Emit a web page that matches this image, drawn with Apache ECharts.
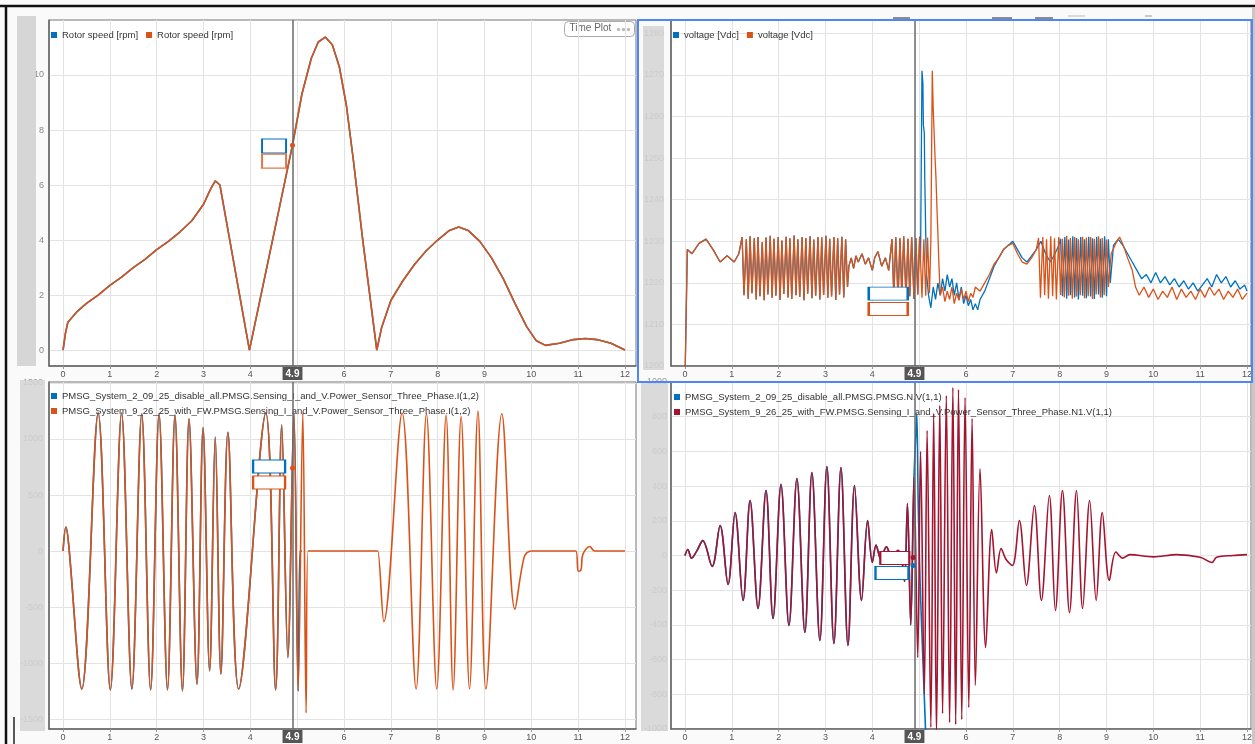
<!DOCTYPE html>
<html>
<head>
<meta charset="utf-8">
<script src="https://cdn.jsdelivr.net/npm/echarts@6/dist/echarts.min.js"></script>
<style>
html, body { margin: 0; padding: 0; background: #fafafa; }
#chart { width: 1255px; height: 744px; }
</style>
</head>
<body>
<div id="chart"></div>
<script>
// ---- data ----
const xTicks = [0, 1, 2, 3, 4, 5, 6, 7, 8, 9, 10, 11, 12]
const cursorT = 4.9

// top left: rotor speed, both runs coincide
const rotorSpeed = [
  [0, 0], [0.05, 0.6], [0.1, 1.0], [0.3, 1.4], [0.5, 1.7], [0.75, 2.0], [1.0, 2.35], [1.25, 2.65],
  [1.5, 3.0], [1.75, 3.3], [2.0, 3.65], [2.25, 3.95], [2.5, 4.3], [2.75, 4.7], [3.0, 5.3], [3.15, 5.85],
  [3.25, 6.15], [3.35, 6.0], [3.98, 0], [4.9, 7.45], [5.1, 9.3], [5.3, 10.6], [5.45, 11.2], [5.6, 11.38],
  [5.75, 11.1], [5.9, 10.3], [6.05, 8.9], [6.2, 6.9], [6.4, 4.0], [6.55, 2.0], [6.7, 0], [6.8, 0.8],
  [7.0, 1.8], [7.25, 2.5], [7.5, 3.1], [7.75, 3.6], [8.0, 4.0], [8.25, 4.35], [8.45, 4.47], [8.65, 4.35],
  [8.9, 3.95], [9.15, 3.35], [9.4, 2.6], [9.65, 1.7], [9.9, 0.85], [10.1, 0.35], [10.3, 0.17], [10.6, 0.25],
  [10.9, 0.38], [11.15, 0.42], [11.4, 0.38], [11.7, 0.25], [12, 0]
]
const rotorTicks = [0, 2, 4, 6, 8, 10]

// top right: DC link voltage
const vdcStart = [
  [0, 1196], [0.04, 1196], [0.05, 1228], [0.15, 1227], [0.3, 1229.5], [0.45, 1230.5], [0.6, 1228],
  [0.75, 1225], [0.9, 1226.5], [1.05, 1225], [1.15, 1227]
]
const vdcBurst1T = [1.22, 1.26, 1.31, 1.35, 1.39, 1.43, 1.48, 1.52, 1.56, 1.60, 1.65, 1.69, 1.73, 1.77,
  1.82, 1.86, 1.90, 1.94, 1.99, 2.03, 2.07, 2.11, 2.16, 2.20, 2.24, 2.28, 2.33, 2.37, 2.41, 2.45, 2.50,
  2.54, 2.58, 2.62, 2.67, 2.71, 2.75, 2.79, 2.84, 2.88, 2.92, 2.96, 3.01, 3.05, 3.09, 3.13, 3.18, 3.22,
  3.26, 3.30, 3.35, 3.39, 3.43, 3.47]
const vdcBurst1V = [1231.0, 1217.0, 1230.5, 1216.2, 1231.2, 1217.5, 1230.8, 1216.0, 1231.0, 1216.8,
  1229.8, 1215.8, 1230.9, 1217.2, 1231.3, 1216.4, 1230.6, 1216.9, 1231.0, 1215.9, 1230.2, 1217.3,
  1231.1, 1216.5, 1230.7, 1216.1, 1231.4, 1217.0, 1230.5, 1216.6, 1231.0, 1215.8, 1230.8, 1217.4,
  1231.2, 1216.3, 1230.4, 1216.9, 1231.0, 1216.0, 1230.9, 1217.1, 1231.3, 1216.4, 1230.6, 1216.7,
  1231.0, 1215.9, 1230.7, 1217.2, 1231.1, 1216.5, 1230.5, 1219.0]
const vdcMid = [
  [3.5, 1224], [3.55, 1226], [3.6, 1223.5], [3.65, 1226.5], [3.7, 1225], [3.78, 1227], [3.85, 1224.5],
  [3.92, 1226], [4.0, 1223], [4.05, 1226], [4.12, 1227.5], [4.2, 1224], [4.28, 1226], [4.35, 1223]
]
const vdcBurst2T = [4.42, 4.46, 4.50, 4.55, 4.59, 4.63, 4.67, 4.72, 4.76, 4.80, 4.84, 4.89, 4.93, 4.97,
  5.01, 5.06, 5.10, 5.14, 5.18, 5.22]
const vdcBurst2V = [1230.5, 1216.5, 1231.0, 1216.0, 1230.7, 1217.0, 1231.2, 1216.3, 1230.6, 1216.8,
  1231.0, 1216.1, 1230.8, 1217.2, 1231.1, 1216.4, 1230.5, 1216.9, 1230.9, 1217.5]
const vdcFwAfter = [
  [5.25, 1230], [5.28, 1271], [5.30, 1262], [5.32, 1262], [5.34, 1250], [5.36, 1245], [5.38, 1238],
  [5.40, 1232], [5.42, 1225], [5.45, 1217], [5.5, 1219], [5.55, 1215.5], [5.6, 1218], [5.65, 1216],
  [5.7, 1219], [5.75, 1215], [5.8, 1217.5], [5.85, 1215.8], [5.9, 1218.5], [5.95, 1216], [6.0, 1218],
  [6.05, 1215.5], [6.1, 1217.5], [6.15, 1216.5], [6.2, 1219], [6.3, 1218], [6.4, 1220], [6.5, 1222],
  [6.6, 1224.5], [6.7, 1226], [6.8, 1228], [6.9, 1229], [7.0, 1229.5], [7.1, 1227], [7.2, 1225],
  [7.3, 1224.5], [7.4, 1226], [7.5, 1228]
]
const vdcFwBurst3T = [7.55, 7.59, 7.64, 7.68, 7.72, 7.76, 7.81, 7.85, 7.89, 7.93, 7.98, 8.02, 8.06, 8.10,
  8.15, 8.19, 8.23, 8.27, 8.32, 8.36, 8.40, 8.44, 8.49, 8.53, 8.57, 8.61, 8.66, 8.70, 8.74, 8.78, 8.83,
  8.87, 8.91, 8.95, 9.00, 9.04]
const vdcFwBurst3V = [1230.8, 1216.4, 1231.0, 1217.0, 1230.5, 1216.2, 1231.2, 1216.8, 1230.7, 1216.0,
  1231.0, 1217.1, 1230.6, 1216.5, 1231.3, 1216.9, 1230.8, 1216.2, 1231.0, 1216.7, 1230.5, 1217.0,
  1231.1, 1216.3, 1230.9, 1216.8, 1231.0, 1216.1, 1230.6, 1217.2, 1231.2, 1216.5, 1230.8, 1217.0,
  1230.4, 1219.0]
const vdcFwEnd = [
  [9.1, 1227], [9.2, 1229.5], [9.28, 1231], [9.36, 1229], [9.45, 1226], [9.55, 1223], [9.62, 1219],
  [9.7, 1217], [9.8, 1219], [9.9, 1216.5], [10.0, 1218.5], [10.1, 1216], [10.2, 1218], [10.3, 1216.5],
  [10.4, 1219], [10.5, 1216], [10.6, 1218.5], [10.7, 1216.5], [10.8, 1218], [10.9, 1216], [11.0, 1218.5],
  [11.1, 1216.5], [11.2, 1219], [11.3, 1217], [11.4, 1218.5], [11.5, 1216], [11.6, 1218], [11.7, 1216.5],
  [11.8, 1218.5], [11.9, 1216], [12.0, 1217.5]
]
const vdcDisAfter = [
  [5.03, 1226], [5.06, 1271], [5.08, 1268], [5.09, 1258], [5.11, 1256], [5.12, 1245], [5.14, 1232],
  [5.16, 1222], [5.2, 1217], [5.25, 1214], [5.3, 1219], [5.35, 1216], [5.4, 1220], [5.45, 1217],
  [5.5, 1221], [5.55, 1218], [5.6, 1222], [5.65, 1219], [5.7, 1221], [5.75, 1217], [5.8, 1220],
  [5.85, 1216], [5.9, 1219], [5.95, 1215], [6.0, 1217], [6.05, 1214.5], [6.1, 1216], [6.15, 1213.5],
  [6.2, 1215], [6.25, 1213.5], [6.3, 1216], [6.4, 1218], [6.5, 1221], [6.6, 1224], [6.7, 1226],
  [6.8, 1228], [6.9, 1229], [7.0, 1230], [7.1, 1228], [7.2, 1226], [7.3, 1225], [7.4, 1226.5],
  [7.5, 1228], [7.6, 1230], [7.7, 1227], [7.8, 1225], [7.9, 1227], [7.98, 1229]
]
const vdcDisBurst3T = [8.02, 8.06, 8.11, 8.15, 8.19, 8.23, 8.28, 8.32, 8.36, 8.40, 8.45, 8.49, 8.53,
  8.57, 8.62, 8.66, 8.70, 8.74, 8.79, 8.83, 8.87, 8.91, 8.96, 9.00, 9.04, 9.08]
const vdcDisBurst3V = [1230.6, 1216.8, 1231.0, 1216.2, 1230.4, 1217.0, 1231.2, 1216.5, 1230.8, 1216.0,
  1231.0, 1216.9, 1230.5, 1216.3, 1231.1, 1216.7, 1230.7, 1216.1, 1231.0, 1217.2, 1230.6, 1216.4,
  1231.2, 1216.8, 1230.5, 1220.0]
const vdcDisEnd = [
  [9.15, 1229], [9.25, 1230.5], [9.35, 1229], [9.45, 1227], [9.55, 1225], [9.65, 1223], [9.75, 1221],
  [9.85, 1222], [9.95, 1220], [10.05, 1222.5], [10.15, 1220], [10.25, 1221.5], [10.35, 1219.5],
  [10.45, 1221], [10.55, 1219], [10.65, 1220.5], [10.75, 1218.5], [10.85, 1220], [10.95, 1218],
  [11.05, 1219.5], [11.15, 1221], [11.25, 1219], [11.35, 1222], [11.45, 1220], [11.55, 1221.5],
  [11.65, 1219], [11.75, 1220.5], [11.85, 1218.5], [11.95, 1219.5], [12.0, 1218]
]

// bottom left: phase current I(1,2)
const iShared = [
  [0, 0], [0.06, 215], [0.12, 60], [0.4, -1232], [0.75, 1232], [1.01, -1240], [1.25, 1232], [1.47, -1232],
  [1.68, 1225], [1.87, -1240], [2.05, 1225], [2.23, -1240], [2.39, 1215], [2.55, -1250], [2.69, 1180],
  [2.86, -1188], [2.99, 1100], [3.13, -1071], [3.25, 1018], [3.37, -1098], [3.52, 1060], [3.75, -1232],
  [4.33, 1232], [4.54, -1240], [4.67, 1125], [4.80, -950], [4.93, 1232]
]
const iDisTail = [[5.02, -1250], [5.06, 0], [5.1, 0]]
const iFwTail = [[5.02, -1250], [5.12, 1232], [5.19, -1446], [5.23, 0], [6.7, 0], [6.72, 0], [6.85, -630],
  [7.24, 1232], [7.54, -1232], [7.76, 1225], [7.98, -1232], [8.18, 1215], [8.33, -1240], [8.5, 1200],
  [8.68, -1232], [8.86, 1250], [9.03, -1232], [9.37, 1225], [9.65, -520], [9.85, -50], [10.0, 0],
  [10.95, 0], [11.0, -180], [11.06, -170], [11.1, -30], [11.25, 40], [11.35, 0], [12, 0]]
const iTicks = [-1500, -1000, -500, 0, 500, 1000, 1500]

// bottom right: phase voltage V(1,1)
const vShared = [
  [0, 0], [0.06, 35], [0.14, -15], [0.25, 25], [0.38, 86], [0.58, -63], [0.75, 173], [0.92, -167],
  [1.07, 248], [1.24, -259], [1.39, 317], [1.56, -305], [1.73, 375], [1.88, -363], [2.05, 409],
  [2.22, -403], [2.39, 444], [2.56, -444], [2.71, 478], [2.88, -490], [3.03, 513], [3.18, -507],
  [3.33, 507], [3.48, -519], [3.62, 403], [3.77, -259], [3.9, 202], [4.0, -40], [4.08, 60], [4.18, -20],
  [4.3, 50], [4.42, -10], [4.55, 30], [4.65, -60], [4.69, -150], [4.75, 300], [4.82, -400], [4.89, 450]
]
const vDisTail = [[4.93, 700], [4.95, 818], [4.98, 300], [5.02, -150], [5.08, -600], [5.15, -1100]]
const vFwTail = [
  [4.97, -588], [5.03, 600], [5.11, -800], [5.17, 720], [5.25, -990], [5.31, 820], [5.37, -1030],
  [5.44, 865], [5.50, -911], [5.58, 922], [5.65, -963], [5.72, 968], [5.78, -974], [5.84, 957],
  [5.91, -945], [5.98, 911], [6.06, -876], [6.13, 790], [6.20, -749], [6.30, 500], [6.42, -530],
  [6.55, 150], [6.65, -100], [6.75, 40], [6.85, -20], [6.99, -58], [7.14, 202], [7.29, -173],
  [7.46, 288], [7.61, -259], [7.78, 346], [7.91, -317], [8.06, 375], [8.21, -329], [8.36, 375],
  [8.49, -305], [8.64, 317], [8.78, -259], [8.91, 248], [9.06, -144], [9.2, 20], [9.35, -15], [9.5, 5],
  [10, -8], [10.5, 5], [11, -10], [11.25, -40], [11.35, -10], [11.7, 0], [12, 5]
]

// ---- helpers ----
const zip = (ts, vs) => ts.map((t, i) => [t, vs[i]])
const BLUE = '#0072BD', ORANGE = '#D95319', MAROON = '#A2142F'
const FONT = 'Liberation Sans, Arial, sans-serif'

const vdcFw = vdcStart.concat(zip(vdcBurst1T, vdcBurst1V), vdcMid, zip(vdcBurst2T, vdcBurst2V), vdcFwAfter,
  zip(vdcFwBurst3T, vdcFwBurst3V), vdcFwEnd)
const vdcDis = vdcStart.concat(zip(vdcBurst1T, vdcBurst1V), vdcMid, zip(vdcBurst2T, vdcBurst2V).slice(0, 15),
  vdcDisAfter, zip(vdcDisBurst3T, vdcDisBurst3V), vdcDisEnd)

const grids = [
  { left: 49, top: 20, width: 587, height: 346 },
  { left: 671, top: 20, width: 581, height: 346 },
  { left: 49, top: 382, width: 587, height: 347 },
  { left: 671, top: 382, width: 581, height: 347 }
]

function xAxisFor(i, min, max) {
  return {
    type: 'value', gridIndex: i, min: min, max: max,
    axisLine: { show: true, onZero: false, lineStyle: { color: '#666', width: 1.5 } },
    axisTick: { show: true, customValues: xTicks, length: 3, lineStyle: { color: '#999' } },
    axisLabel: { customValues: xTicks, fontSize: 9, color: '#555', margin: 4, fontFamily: FONT },
    splitLine: { show: true, lineStyle: { color: '#e3e3e3' } }
  }
}
function yAxisFor(i, range, label, ticks) {
  const axisLabel = Object.assign({ fontSize: 9, color: '#888', fontFamily: FONT, formatter: v => String(v) }, label)
  const axis = Object.assign({
    type: 'value', gridIndex: i,
    axisLine: { show: true, onZero: false, lineStyle: { color: '#666', width: 1.5 } },
    axisTick: { show: false },
    axisLabel: axisLabel,
    splitLine: { show: true, lineStyle: { color: '#e3e3e3' } }
  }, range)
  if (ticks) {
    axis.axisTick.customValues = ticks
    axis.axisLabel.customValues = ticks
  }
  return axis
}

function cursorLine() {
  return {
    silent: true, symbol: 'none', animation: false,
    lineStyle: { color: '#6a6a6a', width: 1.5, type: 'solid' },
    label: {
      show: true, position: 'start', formatter: '4.9', color: '#fff', backgroundColor: '#555',
      padding: [2, 3, 1, 3], fontSize: 10, fontWeight: 'bold', distance: 1, fontFamily: FONT
    },
    data: [{ xAxis: cursorT }]
  }
}
function box(coord, size, color, opacity) {
  return {
    coord: coord, symbol: 'rect', symbolSize: size,
    itemStyle: { color: '#fff', borderColor: color, borderWidth: 1.5, opacity: opacity || 1 }
  }
}
function dot(coord, color) {
  return { coord: coord, symbol: 'circle', symbolSize: 5, itemStyle: { color: color } }
}
function line(name, data, color, gi, extra) {
  return Object.assign({
    name: name, type: 'line', xAxisIndex: gi, yAxisIndex: gi, data: data, showSymbol: false,
    animation: false, clip: true, lineStyle: { color: color, width: 1.6 }, itemStyle: { color: color }
  }, extra)
}

const legendText = { fontSize: 9.5, color: '#333', fontFamily: FONT }
const legendBase = {
  icon: 'rect', itemWidth: 6, itemHeight: 6, itemGap: 8, padding: 0, selectedMode: false,
  textStyle: legendText, formatter: n => n.replace(/#\d$/, '')
}

const chart = echarts.init(document.getElementById('chart'))
chart.setOption({
  backgroundColor: '#fafafa',
  animation: false,
  grid: grids.map(g => Object.assign({ show: true, backgroundColor: '#fff', borderColor: '#777', borderWidth: 1 }, g)),
  xAxis: [xAxisFor(0, -0.3, 12.235), xAxisFor(1, -0.2985, 12.085), xAxisFor(2, -0.3, 12.235), xAxisFor(3, -0.2985, 12.085)],
  yAxis: [
    yAxisFor(0, { min: -0.58, max: 12.0 }, { margin: 5, color: '#888' }, rotorTicks),
    yAxisFor(1, { min: 1200, max: 1283.2, interval: 10 }, { margin: 7, showMaxLabel: false, color: '#9a9a9a' }),
    yAxisFor(2, { min: -1589, max: 1509 }, { margin: 6, color: '#9a9a9a' }, iTicks),
    yAxisFor(3, { min: -1000, max: 1000, interval: 200 }, { margin: 4, color: '#9a9a9a' })
  ],
  legend: [
    Object.assign({}, legendBase, { left: 51, top: 30, data: ['Rotor speed [rpm]#1', 'Rotor speed [rpm]#2'] }),
    Object.assign({}, legendBase, { left: 673, top: 30, data: ['voltage [Vdc]#1', 'voltage [Vdc]#2'] }),
    Object.assign({}, legendBase, {
      left: 51, top: 391, orient: 'vertical', itemGap: 5,
      data: ['PMSG_System_2_09_25_disable_all.PMSG.Sensing_I_and_V.Power_Sensor_Three_Phase.I(1,2)',
        'PMSG_System_9_26_25_with_FW.PMSG.Sensing_I_and_V.Power_Sensor_Three_Phase.I(1,2)']
    }),
    Object.assign({}, legendBase, {
      left: 674, top: 392, orient: 'vertical', itemGap: 5,
      data: ['PMSG_System_2_09_25_disable_all.PMSG.PMSG.N.V(1,1)',
        'PMSG_System_9_26_25_with_FW.PMSG.Sensing_I_and_V.Power_Sensor_Three_Phase.N1.V(1,1)']
    })
  ],
  series: [
    line('Rotor speed [rpm]#1', rotorSpeed, BLUE, 0, { markLine: cursorLine() }),
    line('Rotor speed [rpm]#2', rotorSpeed, ORANGE, 0, {
      markPoint: { silent: true, animation: false, label: { show: false },
        data: [box([4.506, 7.42], [24, 14], BLUE), box([4.506, 6.87], [24, 14], ORANGE, 0.8), dot([4.9, 7.45], ORANGE)] }
    }),
    line('voltage [Vdc]#1', vdcDis, BLUE, 1, { lineStyle: { color: BLUE, width: 1.3 }, markLine: cursorLine() }),
    line('voltage [Vdc]#2', vdcFw, ORANGE, 1, {
      lineStyle: { color: ORANGE, width: 1.3 },
      markPoint: { silent: true, animation: false, label: { show: false },
        data: [box([4.34, 1217.4], [39, 13], BLUE), box([4.34, 1213.7], [39, 13], ORANGE)] }
    }),
    line('PMSG_System_2_09_25_disable_all.PMSG.Sensing_I_and_V.Power_Sensor_Three_Phase.I(1,2)',
      iShared.concat(iDisTail), BLUE, 2, { smooth: 0.35, markLine: cursorLine() }),
    line('PMSG_System_9_26_25_with_FW.PMSG.Sensing_I_and_V.Power_Sensor_Three_Phase.I(1,2)',
      iShared.concat(iFwTail), ORANGE, 2, {
        smooth: 0.35,
        markPoint: { silent: true, animation: false, label: { show: false },
          data: [box([4.40, 754], [32, 13], BLUE), box([4.40, 612], [32, 13], ORANGE), dot([4.9, 741], ORANGE)] }
      }),
    line('PMSG_System_2_09_25_disable_all.PMSG.PMSG.N.V(1,1)', vShared.concat(vDisTail), BLUE, 3, {
      smooth: 0.35, markLine: cursorLine(),
      markPoint: { silent: true, animation: false, label: { show: false },
        data: [box([4.42, -101], [33, 13], BLUE), dot([4.87, -58], BLUE)] }
    }),
    line('PMSG_System_9_26_25_with_FW.PMSG.Sensing_I_and_V.Power_Sensor_Three_Phase.N1.V(1,1)',
      vShared.concat(vFwTail), MAROON, 3, {
        smooth: 0.35,
        markPoint: { silent: true, animation: false, label: { show: false },
          data: [box([4.48, -14], [29, 13], MAROON), dot([4.87, -11], MAROON)] }
      })
  ],
  graphic: [
    // window frame
    { type: 'line', z: 100, shape: { x1: 0, y1: 6, x2: 1255, y2: 6 }, style: { stroke: '#111', lineWidth: 2.5 } },
    { type: 'line', z: 100, shape: { x1: 6, y1: 6, x2: 6, y2: 744 }, style: { stroke: '#111', lineWidth: 2.5 } },
    { type: 'line', z: 100, shape: { x1: 14, y1: 717, x2: 14, y2: 744 }, style: { stroke: '#222', lineWidth: 1.5 } },
    { type: 'rect', z: 100, shape: { x: 1252, y: 8, width: 3, height: 736 }, style: { fill: '#c8c8c8' } },
    // y label cover strips
    { type: 'rect', z: 100, shape: { x: 17, y: 16, width: 19, height: 350 }, style: { fill: '#d3d3d3', opacity: 0.92 } },
    { type: 'rect', z: 100, shape: { x: 643, y: 26, width: 21, height: 344 }, style: { fill: '#d3d3d3', opacity: 0.85 } },
    { type: 'rect', z: 100, shape: { x: 20, y: 380, width: 25, height: 351 }, style: { fill: '#d3d3d3', opacity: 0.85 } },
    { type: 'rect', z: 100, shape: { x: 641, y: 383, width: 27, height: 348 }, style: { fill: '#d3d3d3', opacity: 0.85 } },
    // selected plot frame
    { type: 'rect', z: 101, shape: { x: 638, y: 20, width: 614, height: 362 }, style: { fill: 'none', stroke: '#4f86f7', lineWidth: 2 } },
    // Time Plot badge
    {
      type: 'group', z: 102, left: 564, top: 21,
      children: [
        { type: 'rect', shape: { x: 0, y: 0, width: 70, height: 15, r: 4 }, style: { fill: '#fff', stroke: '#aaa', lineWidth: 1 } },
        { type: 'text', x: 5, y: 2, style: { text: 'Time Plot', fill: '#666', fontSize: 10, fontFamily: FONT } },
        { type: 'circle', shape: { cx: 54, cy: 8, r: 1.7 }, style: { fill: '#bbb' } },
        { type: 'circle', shape: { cx: 59, cy: 8, r: 1.7 }, style: { fill: '#bbb' } },
        { type: 'circle', shape: { cx: 64, cy: 8, r: 1.7 }, style: { fill: '#bbb' } }
      ]
    },
    // toolbar marks above the right plot
    { type: 'line', z: 100, shape: { x1: 893, y1: 18, x2: 910, y2: 18 }, style: { stroke: '#666', lineWidth: 1.5 } },
    { type: 'line', z: 100, shape: { x1: 992, y1: 18, x2: 1012, y2: 18 }, style: { stroke: '#666', lineWidth: 1.5 } },
    { type: 'line', z: 100, shape: { x1: 1035, y1: 18, x2: 1053, y2: 18 }, style: { stroke: '#666', lineWidth: 1.5 } },
    { type: 'line', z: 100, shape: { x1: 1068, y1: 16, x2: 1085, y2: 16 }, style: { stroke: '#bbb', lineWidth: 1 } },
    { type: 'line', z: 100, shape: { x1: 1145, y1: 16, x2: 1152, y2: 16 }, style: { stroke: '#999', lineWidth: 1 } }
  ]
})
</script>
</body>
</html>
